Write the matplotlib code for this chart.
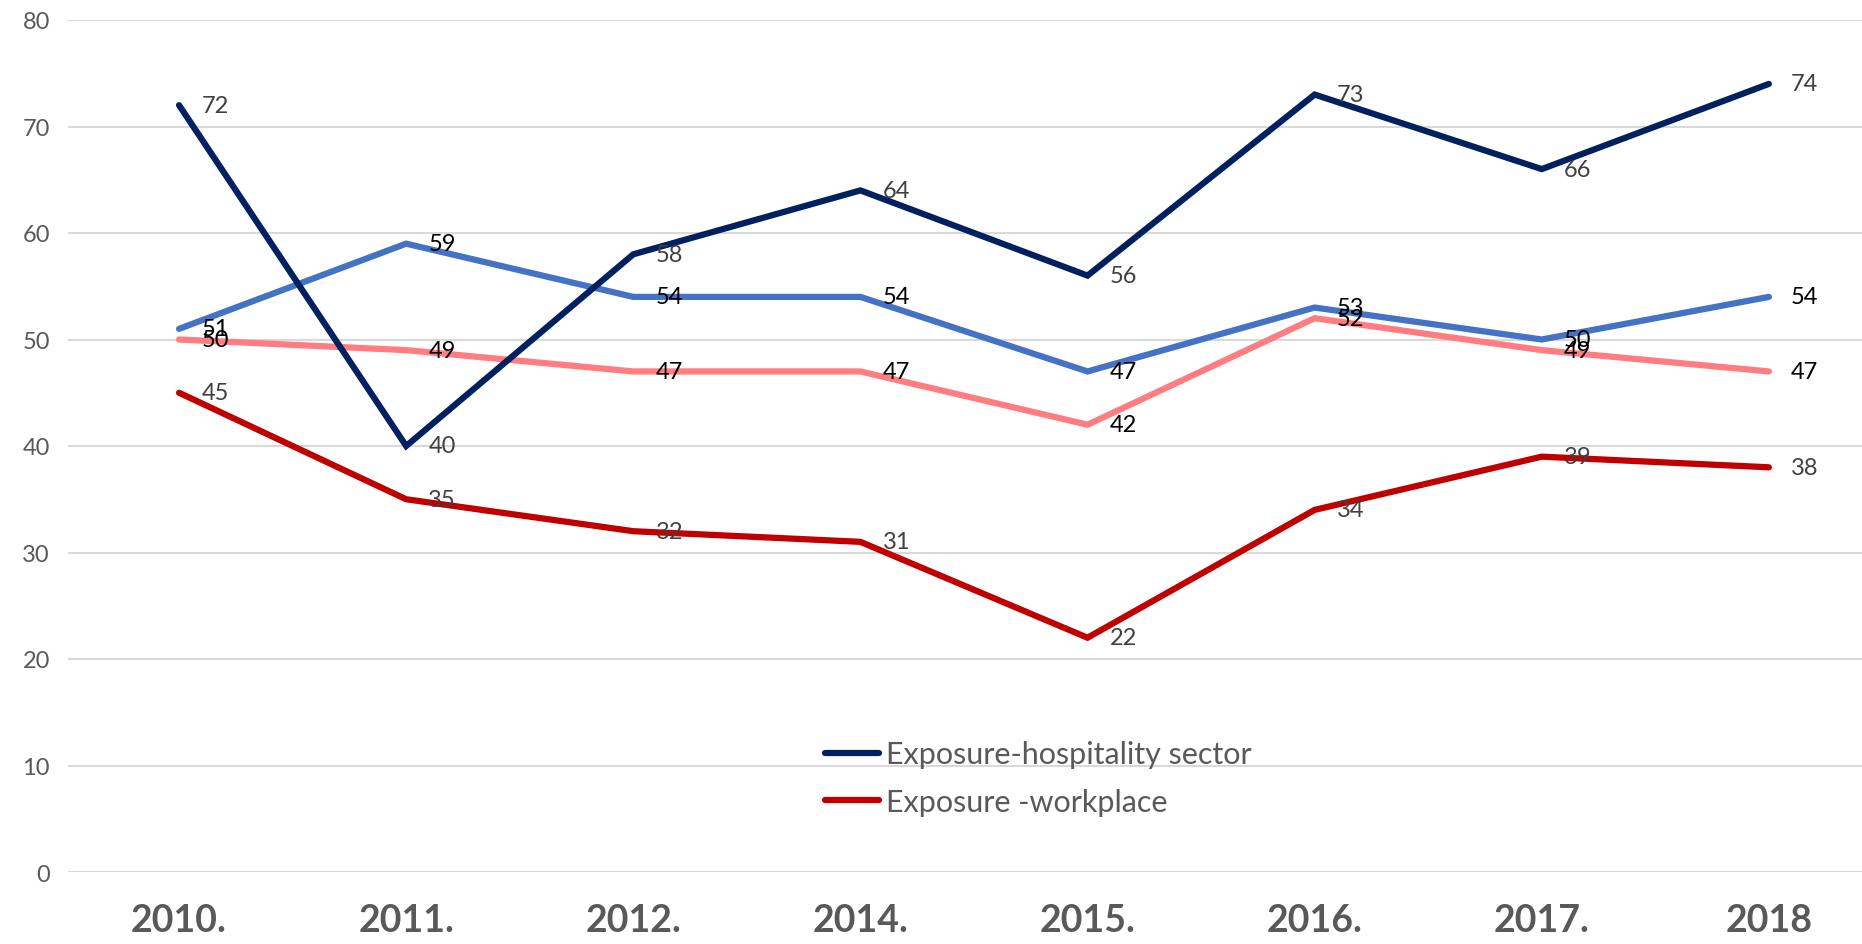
import numpy as np
import matplotlib.pyplot as plt

years = ['2010.', '2011.', '2012.', '2014.', '2015.', '2016.', '2017.', '2018']
hospitality = [72, 40, 58, 64, 56, 73, 66, 74]
workplace = [45, 35, 32, 31, 22, 34, 39, 38]
light_blue = [51, 59, 54, 54, 47, 53, 50, 54]
pink = [50, 49, 47, 47, 42, 52, 49, 47]

plt.rcParams['font.family'] = ['Lato', 'DejaVu Sans']

fig = plt.figure(figsize=(18.62, 9.45), dpi=100)
ax = fig.add_axes([68 / 1862, 1 - 873 / 945, 1 - 68 / 1862, (873 - 21) / 945])

x = np.arange(len(years))

# order: back to front like the reference
series = [
    (light_blue, '#4472C4', '_nolegend_', '#000000'),
    (pink, '#FF7C80', '_nolegend_', '#000000'),
    (hospitality, '#002060', 'Exposure-hospitality sector', '#404040'),
    (workplace, '#C00000', 'Exposure -workplace', '#404040'),
]
handles = []
for vals, col, lab, tcol in series:
    ln, = ax.plot(x, vals, color=col, lw=4.5, label=lab, solid_capstyle='round',
                  solid_joinstyle='miter', zorder=3)
    if not lab.startswith('_'):
        handles.append(ln)
    for xi, v in zip(x, vals):
        ax.annotate(str(v), (xi, v), xytext=(16, 0), textcoords='offset points',
                    ha='left', va='center', fontsize=17, color=tcol, zorder=4)

ax.set_xlim(-0.489, 7.41)
ax.set_ylim(0, 80)
ax.set_yticks(np.arange(0, 81, 10))
ax.yaxis.grid(True, color='#D9D9D9', lw=1.5)
ax.set_axisbelow(True)
for s in ax.spines.values():
    s.set_visible(False)
ax.tick_params(axis='y', length=0, pad=13, labelsize=17, labelcolor='#595959')
ax.tick_params(axis='x', length=0, pad=22, labelsize=27, labelcolor='#595959')
ax.set_xticks(x)
ax.set_xticklabels(years, fontweight='bold')

leg = fig.legend(handles=handles, loc='upper left', bbox_to_anchor=(810 / 1862, 1 - 726 / 945),
                 frameon=False, fontsize=22, labelcolor='#595959', handlelength=1.75,
                 handletextpad=0.25, borderpad=0, labelspacing=0.65)

fig.savefig('out.png', dpi=100)
